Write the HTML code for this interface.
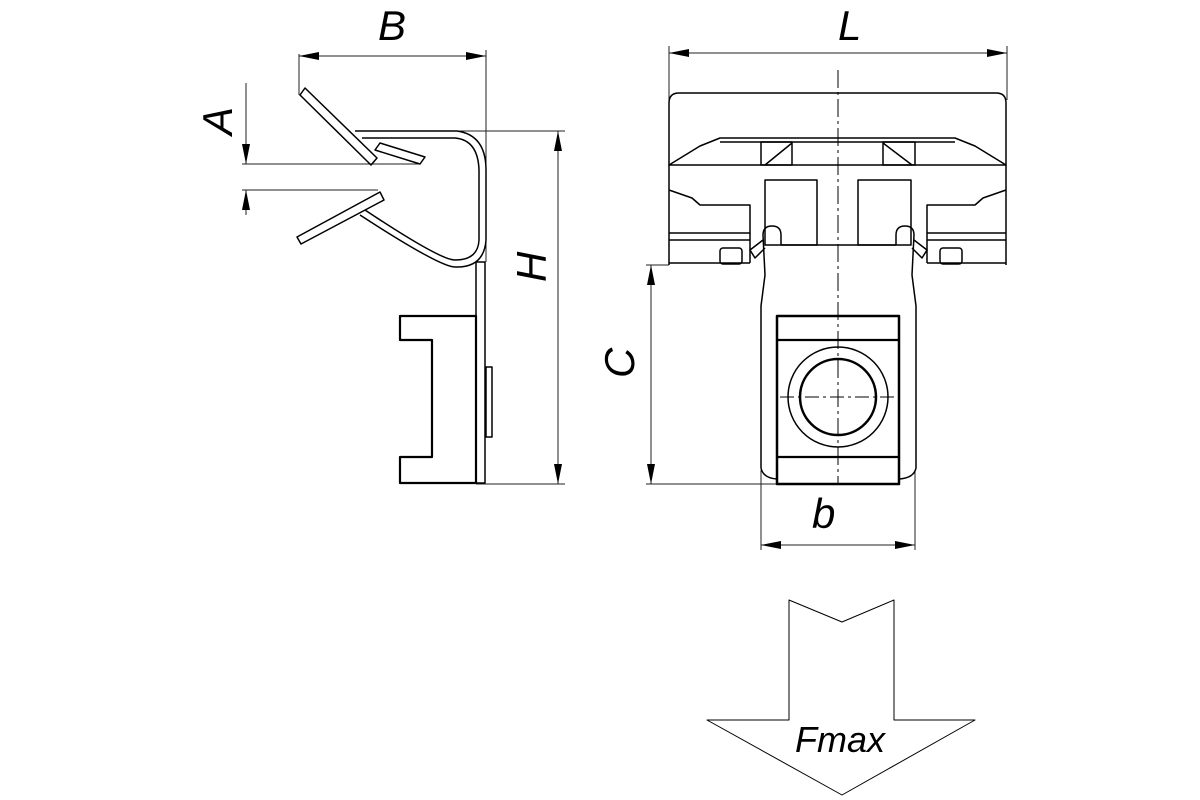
<!DOCTYPE html>
<html><head><style>html,body{margin:0;padding:0;background:#fff}svg{display:block}</style></head><body>
<svg width="1200" height="800" viewBox="0 0 1200 800" xmlns="http://www.w3.org/2000/svg" fill="none" stroke="#000" stroke-width="1.5" stroke-linejoin="round">
<defs><marker id="a" viewBox="0 0 20 8" refX="20" refY="4" markerWidth="20" markerHeight="8" markerUnits="userSpaceOnUse" orient="auto-start-reverse"><path d="M0,0 L20,4 L0,8 Z" fill="#000" stroke="none"/></marker></defs>
<g stroke-width="1" stroke="#222">
<!-- B -->
<line x1="299" y1="56" x2="486" y2="56" marker-start="url(#a)" marker-end="url(#a)"/>
<line x1="299" y1="54" x2="299" y2="95"/><line x1="486" y1="50" x2="486" y2="262"/>
<!-- A -->
<line x1="246" y1="83" x2="246" y2="164" marker-end="url(#a)"/>
<line x1="246" y1="215" x2="246" y2="190" marker-end="url(#a)"/>
<line x1="242" y1="164" x2="420" y2="164"/><line x1="242" y1="190" x2="378" y2="190"/>
<!-- H -->
<line x1="558" y1="131" x2="558" y2="484" marker-start="url(#a)" marker-end="url(#a)"/>
<line x1="457" y1="131" x2="565" y2="131"/><line x1="476" y1="484" x2="565" y2="484"/>
<!-- L -->
<line x1="669" y1="53" x2="1007" y2="53" marker-start="url(#a)" marker-end="url(#a)"/>
<line x1="669" y1="46" x2="669" y2="100"/><line x1="1007" y1="46" x2="1007" y2="100"/>
<!-- C -->
<line x1="651" y1="265" x2="651" y2="484" marker-start="url(#a)" marker-end="url(#a)"/>
<line x1="646" y1="265" x2="669" y2="265"/><line x1="646" y1="484" x2="777" y2="484"/>
<!-- b -->
<line x1="761" y1="545" x2="915" y2="545" marker-start="url(#a)" marker-end="url(#a)"/>
<line x1="761" y1="470" x2="761" y2="550"/><line x1="915" y1="470" x2="915" y2="550"/>
</g>
<!-- left view -->
<g>
<polygon points="300,95 305,88 377,158 371,165"/>
<polygon points="297,237 380,192 384,200 301,244"/>
<polygon points="380,143 425,157 420,164 375,150"/>
<path d="M355,131 L457,131 Q486,135 486,170 L486,240 Q484,268 455,267 Q440,267 360,215"/>
<path d="M362,138 L455,138 Q478,140 479,170 L479,240 Q478,260 455,260 Q440,260 365,210"/>
<rect x="476" y="262" width="9" height="221"/>
<polygon points="400,316 476,316 476,483 400,483 400,457 432,457 432,340 400,340" stroke-width="2.2"/>
<rect x="486" y="367" width="6" height="70"/>
</g>
<!-- right view -->
<g>
<path d="M669,265 L669,103 Q669,93 679,93 L996,93 Q1006,93 1006,103 L1006,265"/>
<path d="M669,165 L700,146 L720,138 L955,138 L975,146 L1006,165 Z"/>
<line x1="720" y1="142" x2="955" y2="142"/>
<rect x="761" y="142" width="31" height="23"/><line x1="765" y1="165" x2="792" y2="143"/>
<rect x="883" y="142" width="32" height="23"/><line x1="883" y1="143" x2="912" y2="165"/>
<path d="M669,190 L692,198 L700,205 L750,205 L750,233 L669,233"/>
<path d="M1006,190 L983,198 L975,205 L927,205 L927,233 L1006,233"/>
<line x1="669" y1="240" x2="750" y2="240"/><line x1="927" y1="240" x2="1006" y2="240"/>
<rect x="720" y="248" width="22" height="16" rx="3"/><rect x="940" y="248" width="22" height="16" rx="3"/>
<line x1="669" y1="263" x2="750" y2="263"/><line x1="927" y1="263" x2="1006" y2="263"/>
<line x1="750" y1="233" x2="750" y2="263"/><line x1="927" y1="233" x2="927" y2="263"/>
<rect x="765" y="180" width="52" height="65"/><rect x="858" y="180" width="53" height="65"/>
<line x1="781" y1="245" x2="896" y2="245"/>
<path d="M781,245 L781,235 Q781,226 772,226 Q763,226 763,235 L765,275 L761,306 L761,468 Q763,478 777,479"/>
<path d="M896,245 L896,235 Q896,226 905,226 Q914,226 914,235 L912,275 L916,306 L916,468 Q914,478 899,479"/>
<path d="M763,240 L750,250 L755,258 L765,248"/><path d="M914,240 L927,250 L922,258 L912,248"/>
<rect x="777" y="316" width="122" height="168" stroke-width="2.5"/>
<line x1="777" y1="340" x2="899" y2="340" stroke-width="2.2"/><line x1="777" y1="457" x2="899" y2="457" stroke-width="2.2"/>
<circle cx="838" cy="397" r="50"/><circle cx="838" cy="397" r="38" stroke-width="2.5"/>
<line x1="838" y1="70" x2="838" y2="484" stroke-width="1" stroke-dasharray="18,4,3,4"/>
<line x1="780" y1="397" x2="896" y2="397" stroke-width="1" stroke-dasharray="14,4,3,4"/>
</g>
<!-- arrow -->
<polygon points="789,600 842,622 894,600 894,720 975,720 842,795 707,720 789,720" stroke-width="1"/>
<g fill="#000" stroke="none" font-family="Liberation Sans, sans-serif" font-style="italic" font-size="42">
<text x="378" y="40">B</text>
<text x="838" y="40">L</text>
<text x="812" y="528">b</text>
<text x="232" y="135" transform="rotate(-90 232 135)">A</text>
<text x="546" y="282" transform="rotate(-90 546 282)">H</text>
<text x="634" y="378" transform="rotate(-90 634 378)">C</text>
<text x="795" y="752" font-size="36">Fmax</text>
</g>
</svg>
</body></html>
